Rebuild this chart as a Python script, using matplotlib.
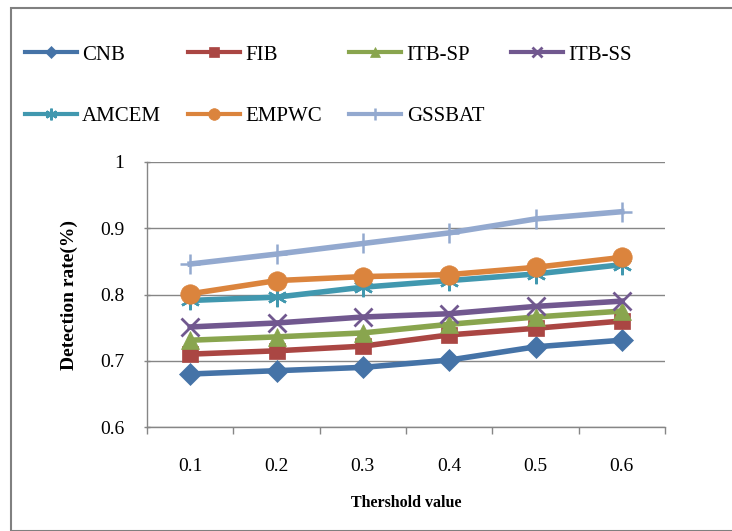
import matplotlib
matplotlib.use('Agg')
import matplotlib.pyplot as plt
from matplotlib.patches import Rectangle

plt.rcParams['font.family'] = ['Liberation Serif', 'DejaVu Serif']

thresholds = ['0.1', '0.2', '0.3', '0.4', '0.5', '0.6']

cnb    = [0.680, 0.685, 0.690, 0.701, 0.721, 0.731]
fib    = [0.710, 0.715, 0.722, 0.739, 0.749, 0.760]
itb_sp = [0.731, 0.736, 0.742, 0.755, 0.766, 0.775]
itb_ss = [0.751, 0.757, 0.766, 0.771, 0.782, 0.790]
amcem  = [0.791, 0.796, 0.811, 0.821, 0.831, 0.845]
empwc  = [0.801, 0.821, 0.827, 0.830, 0.841, 0.856]
gssbat = [0.846, 0.861, 0.877, 0.893, 0.914, 0.925]

# name, values, colour, marker, marker size, edge width
series = [
    ('CNB',    cnb,    '#4573A7', 'D',       11, 0.5),
    ('FIB',    fib,    '#AA4643', 's',       11, 0.5),
    ('ITB-SP', itb_sp, '#89A54E', '^',       13, 0.5),
    ('ITB-SS', itb_ss, '#71588F', 'x',       13, 2.0),
    ('AMCEM',  amcem,  '#4198AF', (6, 2, 0), 14, 1.8),
    ('EMPWC',  empwc,  '#DB843D', 'o',       14, 0.5),
    ('GSSBAT', gssbat, '#93A9CF', '+',       15, 1.8),
]

fig = plt.figure(figsize=(7.32, 5.31), dpi=100)
ax = fig.add_axes([147 / 732, 1 - 427 / 531, 518 / 732, 265 / 531])

x = list(range(len(thresholds)))
handles = {}
for name, vals, col, mk, ms, mew in series:
    h, = ax.plot(x, vals, color=col, lw=4, marker=mk, markersize=ms,
                 markeredgewidth=mew, markeredgecolor=col, markerfacecolor=col,
                 label=name, solid_joinstyle='round')
    handles[name] = h

ax.set_xlim(-0.5, len(thresholds) - 0.5)
ax.set_ylim(0.6, 1.0)
ax.set_yticks([0.6, 0.7, 0.8, 0.9, 1.0])
ax.set_yticklabels(['0.6', '0.7', '0.8', '0.9', '1'])
ax.set_xticks(x)
ax.set_xticklabels(thresholds)
ax.set_xticks([i - 0.5 for i in range(len(thresholds) + 1)], minor=True)
ax.tick_params(axis='x', which='major', length=0, pad=22, labelsize=14)
ax.tick_params(axis='x', which='minor', length=5, direction='out', color='#868686', width=1)
ax.tick_params(axis='y', length=5, direction='inout', color='#868686', width=1,
               labelsize=14, pad=14)
ax.grid(axis='y', color='#868686', lw=1)
ax.set_axisbelow(True)
for s in ['top', 'right']:
    ax.spines[s].set_visible(False)
for s in ['left', 'bottom']:
    ax.spines[s].set_color('#868686')
    ax.spines[s].set_linewidth(1)

ax.set_ylabel('Detection rate(%)', fontsize=14, fontweight='bold', labelpad=16)
ax.set_xlabel('Thershold value', fontsize=11.5, fontweight='bold', labelpad=15)

# legend fills column by column, so order gives rows CNB..ITB-SS / AMCEM..GSSBAT
order = ['CNB', 'AMCEM', 'FIB', 'EMPWC', 'ITB-SP', 'GSSBAT', 'ITB-SS']
leg = fig.legend(handles=[handles[n] for n in order], loc='upper left',
                 bbox_to_anchor=(25 / 732, 1 - 45 / 531), ncol=4, frameon=False,
                 fontsize=15, handlelength=2.5, handletextpad=0.25, columnspacing=1.3,
                 labelspacing=2.0, borderaxespad=0, borderpad=0, markerscale=0.6)
for ln in leg.get_lines():
    ln.set_linewidth(3)

fig.patches.append(Rectangle((11 / 732, 0.0), 0.99, 1 - 8 / 531, transform=fig.transFigure,
                             fill=False, edgecolor='#808080', lw=1.5))

fig.savefig('out.png', dpi=100)
